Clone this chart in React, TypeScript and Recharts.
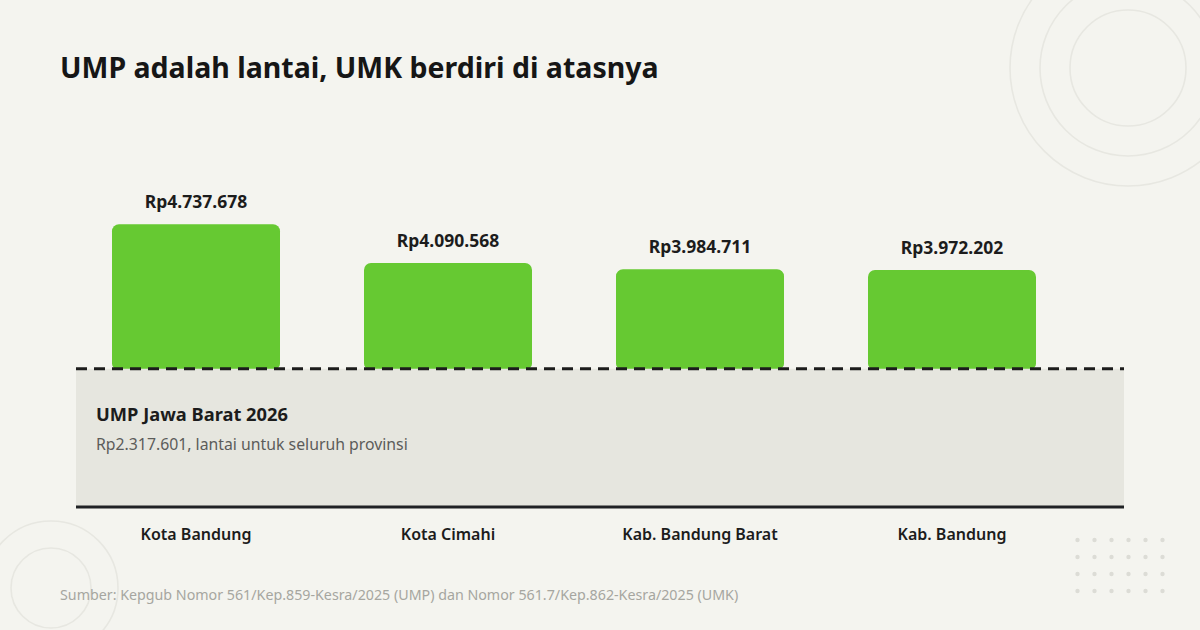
import React from 'react';
import { BarChart, Bar, XAxis, YAxis, ReferenceArea, ReferenceLine, LabelList } from 'recharts';

const regions = ['Kota Bandung', 'Kota Cimahi', 'Kab. Bandung Barat', 'Kab. Bandung'];
const umkValues = [4737678, 4090568, 3984711, 3972202];
const umpValue = 2317601;
const yDomain = [0, 6000000];

const titleText = 'UMP adalah lantai, UMK berdiri di atasnya';
const floorTitle = 'UMP Jawa Barat 2026';
const floorNote = 'Rp2.317.601, lantai untuk seluruh provinsi';
const sourceText = 'Sumber: Kepgub Nomor 561/Kep.859-Kesra/2025 (UMP) dan Nomor 561.7/Kep.862-Kesra/2025 (UMK)';

const data = regions.map((name, i) => ({ name, range: [umpValue, umkValues[i]], umk: umkValues[i] }));

const fmt = (v: any) => 'Rp' + String(v).replace(/\B(?=(\d{3})+(?!\d))/g, '.');

const FONT = '"Noto Sans", "Open Sans", sans-serif';
const BG = '#f4f4ef';

const dotCols = [0, 1, 2, 3, 4, 5];
const dotRows = [0, 1, 2, 3];

export default function App() {
  return (
    <div style={{ position: 'absolute', left: 0, top: 0, width: 1200, height: 630, background: BG, overflow: 'hidden', fontFamily: FONT }}>
      <svg width={1200} height={630} style={{ position: 'absolute', left: 0, top: 0 }}>
        <g fill="none" stroke="#e7e7e1" strokeWidth={1.6}>
          <circle cx={1128} cy={68} r={58} />
          <circle cx={1128} cy={68} r={88} />
          <circle cx={1128} cy={68} r={118} />
          <circle cx={51} cy={588} r={40} />
          <circle cx={51} cy={588} r={67} />
        </g>
        <g fill="#dcdcd6">
          {dotRows.map((r) =>
            dotCols.map((c) => <circle key={r + '-' + c} cx={1077.5 + c * 17} cy={540 + r * 17} r={2.2} />)
          )}
        </g>
      </svg>
      <div style={{ position: 'absolute', left: 0, top: 0 }}>
        <BarChart
          width={1200}
          height={630}
          data={data}
          margin={{ top: 149, right: 76, bottom: 93, left: 76 }}
          barCategoryGap={42}
          style={{ fontFamily: FONT }}
        >
          <XAxis
            xAxisId="cat"
            dataKey="name"
            height={30}
            axisLine={false}
            tickLine={false}
            padding={{ left: -6, right: 46 }}
            tickMargin={16}
            tick={{ fill: '#1c1c1c', fontSize: 16, fontWeight: 600, fontFamily: FONT }}
            interval={0}
          />
          <XAxis xAxisId="full" type="number" domain={[0, 1]} hide />
          <YAxis domain={yDomain} hide allowDataOverflow />
          <ReferenceArea xAxisId="full" y1={0} y2={umpValue} fill="#e6e6df" fillOpacity={1} stroke="none" ifOverflow="visible" />
          <Bar xAxisId="cat" dataKey="range" fill="#66c932" radius={[7, 7, 5, 5]} isAnimationActive={false}>
            <LabelList
              dataKey="umk"
              position="top"
              offset={16}
              formatter={fmt}
              style={{ fill: '#1c1c1c', fontSize: 17.5, fontWeight: 700, fontFamily: FONT }}
            />
          </Bar>
          <ReferenceLine xAxisId="cat" y={umpValue} stroke="#1c1c1c" strokeWidth={3} strokeDasharray="11 7" ifOverflow="visible" />
          <ReferenceLine xAxisId="cat" y={0} stroke="#202225" strokeWidth={3} ifOverflow="visible" />
        </BarChart>
      </div>
      <svg width={1200} height={630} style={{ position: 'absolute', left: 0, top: 0, pointerEvents: 'none' }}>
        <text x={60} y={78} fontFamily={FONT} fontSize={28.5} fontWeight={700} fill="#161616">{titleText}</text>
        <text x={96} y={421} fontFamily={FONT} fontSize={18.3} fontWeight={700} fill="#1c1c1c">{floorTitle}</text>
        <text x={96} y={450} fontFamily={FONT} fontSize={15.8} fill="#5c5c5a">{floorNote}</text>
        <text x={60} y={600} fontFamily={FONT} fontSize={14.25} fill="#a6a6a0">{sourceText}</text>
      </svg>
    </div>
  );
}
